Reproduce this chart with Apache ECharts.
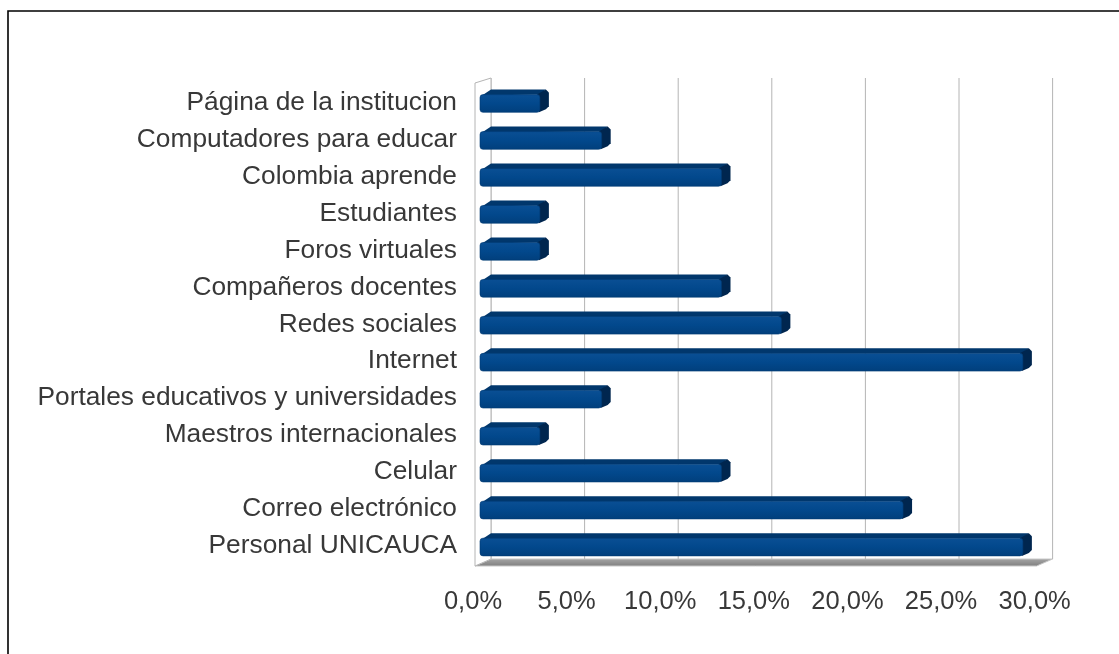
<!DOCTYPE html>
<html>
<head>
<meta charset="utf-8">
<title>Fuentes de información</title>
<script src="https://cdn.jsdelivr.net/npm/echarts@6/dist/echarts.min.js"></script>
<style>
  html, body { margin: 0; padding: 0; background: #fff; }
  #chart { width: 1119px; height: 654px; }
</style>
</head>
<body>
<div id="chart"></div>
<script>
// Categories, listed top to bottom
const categories = [
  'Página de la institucion',
  'Computadores para educar',
  'Colombia aprende',
  'Estudiantes',
  'Foros virtuales',
  'Compañeros docentes',
  'Redes sociales',
  'Internet',
  'Portales educativos y universidades',
  'Maestros internacionales',
  'Celular',
  'Correo electrónico',
  'Personal UNICAUCA'
];

// Share of responses per source (%)
const values = [3.2, 6.5, 12.9, 3.2, 3.2, 12.9, 16.1, 29.0, 6.5, 3.2, 12.9, 22.6, 29.0];

// Value axis ticks (%)
const xTicks = [0, 5, 10, 15, 20, 25, 30];

const FONT = "'Liberation Sans', Arial, sans-serif";
const TEXT = '#383838';

// Depth offsets of the pseudo-3D box (pixels)
const BOX_FRONT = -5;   // front plane relative to the bar origin
const BOX_BACK = 11;    // back wall relative to the bar origin
const BOX_DY = -7;      // vertical shift front -> back
const BAR_DX = 9;       // bar depth
const BAR_DY = -5;

const chart = echarts.init(document.getElementById('chart'), null, { renderer: 'canvas' });

// Walls, floor and gridlines drawn on the back wall
function renderFrame(params, api) {
  const v = api.value(0);
  const cs = params.coordSys;
  const top = cs.y, bottom = cs.y + cs.height;
  const x = api.coord([v, 0])[0];
  const children = [];
  // gridline on back wall
  children.push({
    type: 'line',
    shape: { x1: x + BOX_BACK, y1: top - 6, x2: x + BOX_BACK, y2: bottom + 1.5 + BOX_DY },
    style: { stroke: '#b4b4b4', lineWidth: 1 }
  });
  if (params.dataIndex === 0) {
    const x0 = x;
    const x1 = api.coord([xTicks[xTicks.length - 1], 0])[0];
    const fy = bottom + 1.5;
    const by = fy + BOX_DY;
    // floor
    children.push({
      type: 'polygon',
      shape: { points: [
        [x0 + BOX_FRONT, fy], [x1 + BOX_FRONT, fy],
        [x1 + BOX_BACK, by], [x0 + BOX_BACK, by]
      ] },
      style: {
        fill: new echarts.graphic.LinearGradient(0, 0, 0, 1, [
          { offset: 0, color: '#a6a6a6' }, { offset: 1, color: '#7e7e7e' }
        ]),
        stroke: '#c8c8c8', lineWidth: 1
      }
    });
    // left wall
    children.push({
      type: 'polygon',
      shape: { points: [
        [x0 + BOX_FRONT, top - 1], [x0 + BOX_BACK, top - 6],
        [x0 + BOX_BACK, by], [x0 + BOX_FRONT, fy]
      ] },
      style: { fill: '#ffffff', stroke: '#b4b4b4', lineWidth: 1 }
    });
  }
  return { type: 'group', children };
}

// Bars with front, top and side faces
function renderBar(params, api) {
  const cat = api.value(1);
  const val = api.value(0);
  const start = api.coord([0, cat]);
  const end = api.coord([val, cat]);
  const h = api.size([0, 1])[1] * 0.48;
  const y = start[1] - h / 2 + 1;
  const x0 = start[0], x1 = end[0];
  return {
    type: 'group',
    children: [
      {
        type: 'polygon',
        shape: { points: [
          [x0 + 2, y + 1], [x0 + 2 + BAR_DX, y + BAR_DY],
          [x1 + BAR_DX - 3, y + BAR_DY], [x1, y]
        ] },
        style: { fill: '#01376c' }
      },
      {
        type: 'polygon',
        shape: { points: [
          [x1 - 3, y], [x1 + BAR_DX - 3, y + BAR_DY], [x1 + BAR_DX, y + BAR_DY + 3],
          [x1 + BAR_DX, y + h + BAR_DY - 1], [x1 + BAR_DX - 3, y + h + BAR_DY + 2], [x1 - 1, y + h]
        ] },
        style: { fill: '#00264f' }
      },
      {
        type: 'rect',
        shape: { x: x0, y: y, width: x1 - x0, height: h, r: 3 },
        style: {
          fill: new echarts.graphic.LinearGradient(0, 0, 0, 1, [
            { offset: 0, color: '#0a4f94' },
            { offset: 0.5, color: '#02488c' },
            { offset: 1, color: '#013f7c' }
          ]),
          stroke: '#013a73', lineWidth: 0.6
        }
      }
    ]
  };
}

const option = {
  backgroundColor: '#ffffff',
  animation: false,
  graphic: [{
    type: 'rect',
    shape: { x: 8, y: 11, width: 1300, height: 800 },
    style: { fill: 'none', stroke: '#000', lineWidth: 1.6 },
    z: 100
  }],
  grid: { left: 480, right: 77.4, top: 84, bottom: 89.5, containLabel: false },
  xAxis: {
    type: 'value',
    min: 0,
    max: 30,
    interval: 5,
    axisLine: { show: false },
    axisTick: { show: false },
    splitLine: { show: false },
    axisLabel: {
      margin: 24,
      padding: [0, 14, 0, 0],
      fontFamily: FONT,
      fontSize: 25.5,
      color: TEXT,
      formatter: v => v.toFixed(1).replace('.', ',') + '%'
    }
  },
  yAxis: {
    type: 'category',
    inverse: true,
    data: categories,
    axisLine: { show: false },
    axisTick: { show: false },
    splitLine: { show: false },
    axisLabel: {
      margin: 23,
      fontFamily: FONT,
      fontSize: 26.3,
      color: TEXT
    }
  },
  series: [
    {
      type: 'custom',
      name: 'frame',
      renderItem: renderFrame,
      data: xTicks.map(t => [t, 0]),
      encode: { x: 0, y: 1 },
      silent: true,
      z: 1
    },
    {
      type: 'custom',
      name: 'Fuentes',
      renderItem: renderBar,
      data: values.map((v, i) => [v, i]),
      encode: { x: 0, y: 1 },
      z: 2
    }
  ]
};

chart.setOption(option);
</script>
</body>
</html>
